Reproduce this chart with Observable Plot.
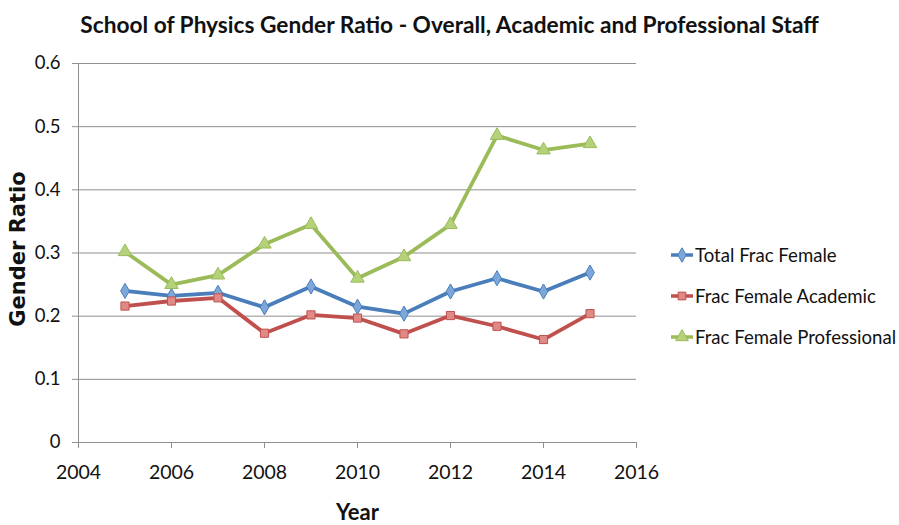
<!DOCTYPE html>
<html>
<head>
<meta charset="utf-8">
<script src="https://cdn.jsdelivr.net/npm/d3@7"></script>
<script src="https://cdn.jsdelivr.net/npm/@observablehq/plot@0.6"></script>
<style>
  html, body { margin: 0; padding: 0; background: #fff; }
  #wrap { position: relative; width: 899px; height: 525px; overflow: hidden; font-family: Lato, "Open Sans", sans-serif; }
  #title { position: absolute; left: 0; width: 899px; top: 11px; text-align: center; font: bold 22.7px Lato, sans-serif; color: #111; white-space: nowrap; }
  #legend { position: absolute; left: 670px; top: 234px; }
  .item { display: flex; align-items: center; height: 41px; font: 18.6px Lato, sans-serif; color: #111; white-space: nowrap; }
  .item svg { margin-right: 1px; }
  #chart { position: absolute; left: 0; top: 0; }
</style>
</head>
<body>
<div id="wrap">
  <div id="chart"></div>
  <div id="title">School of Physics Gender Ratio - Overall, Academic and Professional Staff</div>
  <div id="legend"></div>
</div>
<script>
const years = [2005, 2006, 2007, 2008, 2009, 2010, 2011, 2012, 2013, 2014, 2015];
const totalFemale = [0.240, 0.232, 0.237, 0.214, 0.247, 0.215, 0.204, 0.239, 0.260, 0.239, 0.269];
const academicFemale = [0.216, 0.224, 0.229, 0.173, 0.202, 0.197, 0.172, 0.201, 0.184, 0.163, 0.204];
const professionalFemale = [0.302, 0.250, 0.265, 0.314, 0.345, 0.260, 0.294, 0.345, 0.486, 0.463, 0.473];
const seriesNames = ["Total Frac Female", "Frac Female Academic", "Frac Female Professional"];
const seriesColors = ["#4A7EBB", "#C0504D", "#9BBB59"];
const markerFills = ["#7BA7DA", "#E08A87", "#B5D17A"];
const markerSymbols = ["diamond", "square", "triangle"];
const xTicks = [2004, 2006, 2008, 2010, 2012, 2014, 2016];
const xTickLabels = ["2004", "2006", "2008", "2010", "2012", "2014", "2016"];
const yTicks = [0, 0.1, 0.2, 0.3, 0.4, 0.5, 0.6];
const yTickLabels = ["0", "0.1", "0.2", "0.3", "0.4", "0.5", "0.6"];

const seriesValues = [totalFemale, academicFemale, professionalFemale];
const rows = [];
seriesValues.forEach((vals, s) => vals.forEach((v, i) => rows.push({series: seriesNames[s], year: years[i], value: v})));

const grid = "#8f8f8f";
const marks = [
  Plot.gridY(yTicks.filter(d => d > 0), {stroke: grid, strokeOpacity: 1, strokeWidth: 1}),
  Plot.ruleY([0], {stroke: grid, strokeWidth: 1}),
  Plot.ruleX([2004], {stroke: grid, strokeWidth: 1}),
  Plot.axisY({ticks: yTicks, tickFormat: d => yTickLabels[yTicks.indexOf(d)], label: null, tickSize: 6, tickPadding: 12, stroke: grid, fontSize: 18.5, fontFamily: "Lato", fill: "#111"}),
  Plot.axisX({ticks: xTicks, tickFormat: d => xTickLabels[xTicks.indexOf(d)], label: null, tickSize: 6, tickPadding: 17, stroke: grid, fontSize: 19.5, fontFamily: "Lato", fill: "#111"}),
  Plot.text(["Year"], {frameAnchor: "bottom", dy: 70, lineAnchor: "middle", fontSize: 22, fontWeight: "bold", fontFamily: "Lato", fill: "#111"}),
  Plot.text(["Gender Ratio"], {frameAnchor: "left", dx: -60, dy: -4, rotate: -90, textAnchor: "middle", lineAnchor: "middle", fontSize: 21, fontWeight: "bold", fontFamily: "DejaVu Sans", fill: "#111"})
];
seriesNames.forEach((name, s) => {
  const data = rows.filter(r => r.series === name);
  marks.push(Plot.line(data, {x: "year", y: "value", stroke: seriesColors[s], strokeWidth: 3.8, strokeLinejoin: "round"}));
  marks.push(Plot.dot(data, {x: "year", y: "value", symbol: markerSymbols[s], r: s === 2 ? 5 : 4.6, fill: markerFills[s], stroke: seriesColors[s], strokeWidth: 1}));
});

const plot = Plot.plot({
  width: 899,
  height: 525,
  marginLeft: 78,
  marginRight: 263,
  marginTop: 63,
  marginBottom: 83,
  x: {domain: [2004, 2016]},
  y: {domain: [0, 0.6]},
  style: {background: "transparent", fontFamily: "Lato"},
  marks
});
document.getElementById("chart").appendChild(plot);

// legend
const legend = document.getElementById("legend");
const symTypes = {diamond: d3.symbolDiamond, square: d3.symbolSquare, triangle: d3.symbolTriangle};
seriesNames.forEach((name, s) => {
  const item = document.createElement("div");
  item.className = "item";
  const size = s === 2 ? 70 : 60;
  const path = d3.symbol(symTypes[markerSymbols[s]], size)();
  item.innerHTML = `<svg width="24" height="16" viewBox="0 0 24 16"><line x1="1" x2="23" y1="8" y2="8" stroke="${seriesColors[s]}" stroke-width="3.5"/><path d="${path}" transform="translate(12,8)" fill="${markerFills[s]}" stroke="${seriesColors[s]}" stroke-width="1"/></svg><span>${name}</span>`;
  legend.appendChild(item);
});
</script>
</body>
</html>
